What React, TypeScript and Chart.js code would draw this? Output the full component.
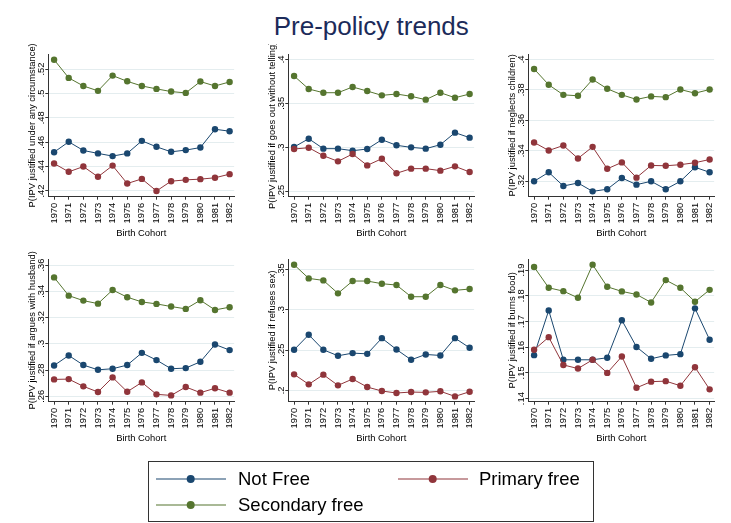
import React, { useEffect, useRef } from "react";
import { Chart, registerables } from "chart.js";

Chart.register(...registerables);
const FONT_FAMILY = "'Liberation Sans', Arial, Helvetica, sans-serif";
Chart.defaults.font.family = FONT_FAMILY;

const chartTitle = "Pre-policy trends";
const xAxisTitle = "Birth Cohort";
const years = [1970, 1971, 1972, 1973, 1974, 1975, 1976, 1977, 1978, 1979, 1980, 1981, 1982];
const seriesLabels = ["Not Free", "Primary free", "Secondary free"];
const seriesColors = ["#1a476f", "#90353b", "#55752f"];

// Panel 1
const p1Title = "P(IPV justified under any circumstance)";
const p1NotFree = [0.4518, 0.4603, 0.4532, 0.4508, 0.4486, 0.4508, 0.4611, 0.4562, 0.4521, 0.4535, 0.4556, 0.4706, 0.469];
const p1Primary = [0.4425, 0.4357, 0.44, 0.4316, 0.4408, 0.4261, 0.4299, 0.42, 0.428, 0.4291, 0.4297, 0.4308, 0.4338];
const p1Secondary = [0.5276, 0.5127, 0.5061, 0.5021, 0.5146, 0.5099, 0.5061, 0.5037, 0.5015, 0.5004, 0.5097, 0.5061, 0.5094];
const p1Ticks = [0.42, 0.44, 0.46, 0.48, 0.5, 0.52];
const p1Range = [0.4153, 0.5323];

// Panel 2
const p2Title = "P(IPV justified if goes out without telling)";
const p2NotFree = [0.3004, 0.3098, 0.2985, 0.2985, 0.2962, 0.2981, 0.3087, 0.3023, 0.3, 0.2985, 0.303, 0.3167, 0.311];
const p2Primary = [0.2981, 0.2996, 0.2905, 0.2841, 0.2924, 0.2795, 0.2871, 0.2705, 0.2758, 0.2758, 0.2735, 0.2784, 0.272];
const p2Secondary = [0.3811, 0.3663, 0.3621, 0.3621, 0.3686, 0.364, 0.3591, 0.3606, 0.358, 0.3542, 0.3621, 0.3564, 0.3606];
const p2Ticks = [0.25, 0.3, 0.35, 0.4];
const p2Range = [0.2439, 0.4061];

// Panel 3
const p3Title = "P(IPV justified if neglects children)";
const p3NotFree = [0.32, 0.3259, 0.3169, 0.3189, 0.3134, 0.3148, 0.3222, 0.3178, 0.32, 0.3148, 0.32, 0.3292, 0.3259];
const p3Primary = [0.3455, 0.3402, 0.3435, 0.335, 0.3426, 0.3282, 0.3324, 0.3224, 0.3304, 0.3302, 0.3309, 0.3322, 0.3343];
const p3Secondary = [0.3937, 0.3833, 0.3767, 0.3761, 0.3868, 0.3807, 0.3767, 0.3737, 0.3757, 0.3752, 0.3802, 0.3778, 0.3802];
const p3Ticks = [0.32, 0.34, 0.36, 0.38, 0.4];
const p3Range = [0.3099, 0.4035];

// Panel 4
const p4Title = "P(IPV justified if argues with husband)";
const p4NotFree = [0.2835, 0.2911, 0.2838, 0.2802, 0.281, 0.2838, 0.2931, 0.2876, 0.281, 0.2815, 0.2863, 0.2995, 0.2952];
const p4Primary = [0.2729, 0.2731, 0.2676, 0.2633, 0.2744, 0.2635, 0.2706, 0.2615, 0.2607, 0.2671, 0.2628, 0.2661, 0.2628];
const p4Secondary = [0.3506, 0.3367, 0.3329, 0.3306, 0.341, 0.3355, 0.3319, 0.3304, 0.3284, 0.3266, 0.3332, 0.3258, 0.3279];
const p4Ticks = [0.26, 0.28, 0.3, 0.32, 0.34, 0.36];
const p4Range = [0.2559, 0.3646];

// Panel 5
const p5Title = "P(IPV justified if refuses sex)";
const p5NotFree = [0.2504, 0.2691, 0.2504, 0.243, 0.2463, 0.2454, 0.2649, 0.2508, 0.238, 0.2446, 0.2434, 0.2649, 0.2529];
const p5Primary = [0.2199, 0.2075, 0.2195, 0.2062, 0.2141, 0.2041, 0.1992, 0.1967, 0.1979, 0.1975, 0.1988, 0.1925, 0.1983];
const p5Secondary = [0.3562, 0.3392, 0.3367, 0.3206, 0.3359, 0.3359, 0.3326, 0.3309, 0.3164, 0.3164, 0.3309, 0.3243, 0.326];
const p5Ticks = [0.2, 0.25, 0.3, 0.35];
const p5Range = [0.1859, 0.3633];

// Panel 6
const p6Title = "P(IPV justified if burns food)";
const p6NotFree = [0.1569, 0.1743, 0.1551, 0.1551, 0.1551, 0.1559, 0.1705, 0.1601, 0.1555, 0.1568, 0.1573, 0.1751, 0.1629];
const p6Primary = [0.159, 0.1639, 0.1531, 0.1517, 0.1551, 0.15, 0.1564, 0.1442, 0.1466, 0.1468, 0.145, 0.1522, 0.1436];
const p6Secondary = [0.1912, 0.1831, 0.1818, 0.1792, 0.1921, 0.1835, 0.1817, 0.1805, 0.1774, 0.1861, 0.1831, 0.1777, 0.1823];
const p6Ticks = [0.14, 0.15, 0.16, 0.17, 0.18, 0.19];
const p6Range = [0.1388, 0.1943];

const panels = [
  { title: p1Title, series: [p1NotFree, p1Primary, p1Secondary], ticks: p1Ticks, range: p1Range },
  { title: p2Title, series: [p2NotFree, p2Primary, p2Secondary], ticks: p2Ticks, range: p2Range },
  { title: p3Title, series: [p3NotFree, p3Primary, p3Secondary], ticks: p3Ticks, range: p3Range },
  { title: p4Title, series: [p4NotFree, p4Primary, p4Secondary], ticks: p4Ticks, range: p4Range },
  { title: p5Title, series: [p5NotFree, p5Primary, p5Secondary], ticks: p5Ticks, range: p5Range },
  { title: p6Title, series: [p6NotFree, p6Primary, p6Secondary], ticks: p6Ticks, range: p6Range },
];

const FS = 9.4;
const CW = 244;
const CH = 200;

function fmtY(v: number) {
  return String(v).replace(/^0\./, ".");
}

// Draws the y-axis title along the y scale, without squeezing it to the plot height
function makeYTitlePlugin(text: string) {
  return {
    id: "yTitleFull",
    afterDraw(chart: any) {
      const s = chart.scales.y;
      const ctx = chart.ctx;
      ctx.save();
      ctx.translate(s.left + 32, (s.top + s.bottom) / 2);
      ctx.rotate(-Math.PI / 2);
      ctx.font = `${FS}px ${FONT_FAMILY}`;
      ctx.fillStyle = "#000";
      ctx.textAlign = "center";
      ctx.textBaseline = "middle";
      ctx.fillText(text, 0, 0);
      ctx.restore();
    },
  };
}

function Panel(props: { title: string; series: number[][]; ticks: number[]; range: number[]; left: number; top: number }) {
  const ref = useRef<HTMLCanvasElement>(null);
  useEffect(() => {
    const chart = new Chart(ref.current as HTMLCanvasElement, {
      type: "line",
      data: {
        datasets: seriesLabels.map((lab, i) => ({
          label: lab,
          data: years.map((yr, j) => ({ x: yr, y: props.series[i][j] })),
          borderColor: seriesColors[i],
          backgroundColor: seriesColors[i],
          pointBackgroundColor: seriesColors[i],
          pointBorderColor: seriesColors[i],
          pointRadius: 3.2,
          pointBorderWidth: 0,
          borderWidth: 1,
          tension: 0,
          order: 3 - i,
        })),
      },
      options: {
        responsive: false,
        animation: false,
        devicePixelRatio: 1,
        layout: { padding: { top: 10, right: 3.3, bottom: 0, left: 0 } },
        plugins: { legend: { display: false }, tooltip: { enabled: false } },
        scales: {
          x: {
            type: "linear",
            position: "bottom",
            min: 1969.604,
            max: 1982.31,
            afterBuildTicks: (s: any) => {
              s.ticks = years.map((v) => ({ value: v }));
            },
            afterFit: (s: any) => {
              s.height = 47.3;
            },
            ticks: {
              minRotation: 90,
              maxRotation: 90,
              padding: 3,
              autoSkip: false,
              color: "#000",
              font: { size: FS },
              callback: (v: any) => String(v),
            },
            grid: { drawOnChartArea: false, drawTicks: true, tickLength: 3, tickColor: "#333", color: "#333" },
            border: { display: true, color: "#333", width: 1 },
            title: { display: true, text: xAxisTitle, color: "#000", font: { size: FS }, padding: { top: 0, bottom: 5.2 } },
          },
          y: {
            type: "linear",
            min: props.range[0],
            max: props.range[1],
            afterBuildTicks: (s: any) => {
              s.ticks = props.ticks.map((v) => ({ value: v }));
            },
            afterFit: (s: any) => {
              s.width = 48.3;
            },
            ticks: {
              minRotation: 90,
              maxRotation: 90,
              crossAlign: "center",
              padding: -2.6,
              color: "#000",
              font: { size: FS },
              callback: (v: any) => fmtY(Number(v)),
            },
            grid: { color: "#e4edef", lineWidth: 1, drawTicks: true, tickLength: 3, tickColor: "#333" },
            border: { display: true, color: "#333", width: 1 },
            title: { display: false },
          },
        },
      } as any,
      plugins: [makeYTitlePlugin(props.title)],
    });
    return () => chart.destroy();
  }, []);
  return (
    <canvas
      ref={ref}
      width={CW}
      height={CH}
      style={{ position: "absolute", left: props.left, top: props.top, width: CW, height: CH }}
    />
  );
}

function Swatch(props: { color: string; left: number; top: number }) {
  return (
    <svg width={72} height={10} style={{ position: "absolute", left: props.left, top: props.top - 5 }}>
      <line x1={0} y1={5} x2={70} y2={5} stroke={props.color} strokeWidth={1.2} />
      <circle cx={34.7} cy={5} r={4} fill={props.color} />
    </svg>
  );
}

export default function App() {
  const legendPos = [
    { sx: 8, tx: 90, cy: 18 },
    { sx: 250, tx: 331, cy: 18 },
    { sx: 8, tx: 90, cy: 44 },
  ];
  return (
    <div style={{ position: "absolute", left: 0, top: 0, width: 731, height: 523, background: "#fff", overflow: "hidden", fontFamily: FONT_FAMILY }}>
      <div style={{ position: "absolute", left: 0, top: 13, width: 742.6, textAlign: "center", fontSize: 26, lineHeight: "26px", color: "#1c2b5a", whiteSpace: "nowrap" }}>
        {chartTitle}
      </div>
      {panels.map((p, i) => (
        <Panel key={i} title={p.title} series={p.series} ticks={p.ticks} range={p.range} left={240 * (i % 3)} top={44 + 205 * Math.floor(i / 3)} />
      ))}
      <div style={{ position: "absolute", left: 148, top: 461, width: 446, height: 61, border: "1px solid #333", boxSizing: "border-box" }}>
        {seriesLabels.map((lab, i) => (
          <React.Fragment key={lab}>
            <Swatch color={seriesColors[i]} left={legendPos[i].sx - 1} top={legendPos[i].cy - 1} />
            <div style={{ position: "absolute", left: legendPos[i].tx - 1, top: legendPos[i].cy - 11, fontSize: 18.5, lineHeight: "20px", color: "#000", whiteSpace: "nowrap" }}>
              {lab}
            </div>
          </React.Fragment>
        ))}
      </div>
    </div>
  );
}
